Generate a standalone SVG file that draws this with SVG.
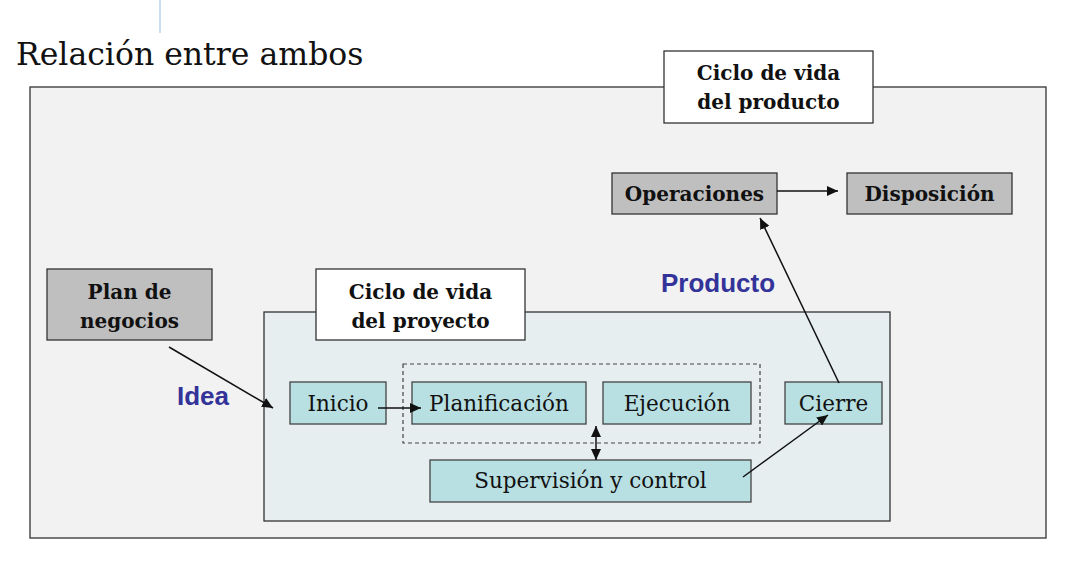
<svg xmlns="http://www.w3.org/2000/svg" width="1065" height="570" viewBox="0 0 1065 570">
<defs>
<marker id="ah" markerUnits="userSpaceOnUse" markerWidth="12" markerHeight="10" refX="11" refY="5" orient="auto">
<path d="M0,0 L11,5 L0,10 z" fill="#111"/>
</marker>
<marker id="ahs" markerUnits="userSpaceOnUse" markerWidth="12" markerHeight="10" refX="1" refY="5" orient="auto">
<path d="M12,0 L1,5 L12,10 z" fill="#111"/>
</marker>
<style>
.frame{stroke:#333;stroke-width:1.3}
.gray{fill:#bfbfbf;stroke:#333;stroke-width:1.3}
.white{fill:#fff;stroke:#333;stroke-width:1.3}
.teal{fill:#b8dfe1;stroke:#444;stroke-width:1.3}
.bt{font-family:"DejaVu Serif","Liberation Serif",serif;font-weight:bold;font-size:20px;fill:#111;text-anchor:middle}
.rt{font-family:"DejaVu Serif","Liberation Serif",serif;font-size:21.5px;fill:#111;text-anchor:middle}
.lbl{font-family:"Liberation Sans",Arial,sans-serif;font-weight:bold;font-size:26px;fill:#333399}
.conn{stroke:#111;stroke-width:1.5;fill:none}
</style>
</defs>
<rect width="1065" height="570" fill="#fff"/>
<line x1="160" y1="0" x2="160" y2="33" stroke="#a8c8f0" stroke-width="1.2"/>
<text x="16" y="65" font-family="DejaVu Serif,'Liberation Serif',serif" font-size="31.5" fill="#111">Relación entre ambos</text>

<g id="product-lifecycle">
<rect class="frame" x="30" y="87" width="1016" height="451" fill="#f2f2f2"/>
</g>
<g id="product-title">
<rect class="white" x="664" y="51" width="209" height="72"/>
<text class="bt" x="768.5" y="80">Ciclo de vida</text>
<text class="bt" x="768.5" y="109">del producto</text>
</g>
<g id="operaciones">
<rect class="gray" x="612" y="173" width="165" height="41"/>
<text class="bt" x="694.5" y="201">Operaciones</text>
</g>
<g id="disposicion">
<rect class="gray" x="847" y="173" width="165" height="41"/>
<text class="bt" x="929.5" y="201">Disposición</text>
</g>
<g id="plan-negocios">
<rect class="gray" x="47" y="269" width="165" height="71"/>
<text class="bt" x="129.5" y="299">Plan de</text>
<text class="bt" x="129.5" y="328">negocios</text>
</g>
<g id="project-lifecycle">
<rect class="frame" x="264" y="312" width="626" height="209" fill="#e6eef0"/>
</g>
<g id="project-title">
<rect class="white" x="316" y="269" width="209" height="71"/>
<text class="bt" x="420.5" y="299">Ciclo de vida</text>
<text class="bt" x="420.5" y="328">del proyecto</text>
</g>
<g id="group-plan-exec">
<rect x="403" y="364" width="357" height="79" fill="none" stroke="#444" stroke-width="1.2" stroke-dasharray="4,3"/>
</g>
<g id="inicio">
<rect class="teal" x="290" y="382" width="96" height="42"/>
<text class="rt" x="338" y="411">Inicio</text>
</g>
<g id="planificacion">
<rect class="teal" x="412" y="382" width="174" height="42"/>
<text class="rt" x="499" y="411">Planificación</text>
</g>
<g id="ejecucion">
<rect class="teal" x="603" y="382" width="148" height="42"/>
<text class="rt" x="677" y="411">Ejecución</text>
</g>
<g id="cierre">
<rect class="teal" x="785" y="382" width="97" height="42"/>
<text class="rt" x="833.5" y="411">Cierre</text>
</g>
<g id="supervision">
<rect class="teal" x="430" y="460" width="321" height="42"/>
<text class="rt" x="590.5" y="488">Supervisión y control</text>
</g>
<g id="labels">
<text class="lbl" x="177" y="405">Idea</text>
<text class="lbl" x="661" y="292">Producto</text>
</g>
<g id="connectors">
<line class="conn" x1="777" y1="191" x2="838" y2="191" marker-end="url(#ah)"/>
<line class="conn" x1="169" y1="347" x2="273" y2="408" marker-end="url(#ah)"/>
<line class="conn" x1="378" y1="408" x2="421" y2="408" marker-end="url(#ah)"/>
<line class="conn" x1="596" y1="426" x2="596" y2="460" marker-start="url(#ahs)" marker-end="url(#ah)"/>
<line class="conn" x1="743" y1="477" x2="828" y2="415" marker-end="url(#ah)"/>
<line class="conn" x1="839" y1="383" x2="760" y2="218" marker-end="url(#ah)"/>
</g>
</svg>
